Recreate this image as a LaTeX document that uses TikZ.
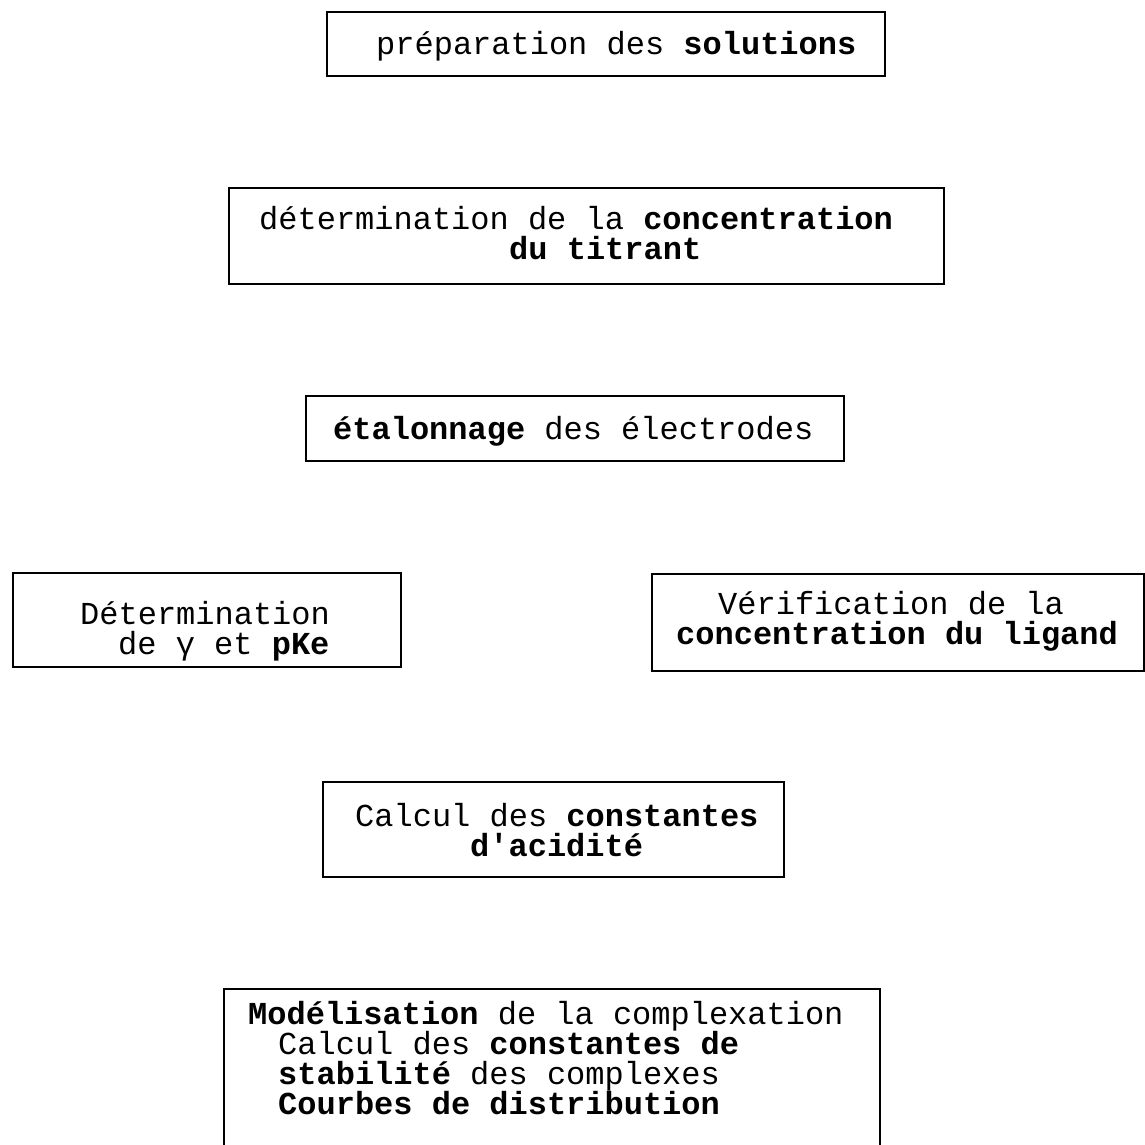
\documentclass[tikz,border=0pt]{standalone}
\usepackage{fontspec}
\setmonofont{Liberation Mono}
\begin{document}
\begin{tikzpicture}[x=1pt,y=-1pt,
  box/.style={draw=black,line width=1.6pt,rectangle,inner sep=0pt,anchor=north west},
  txt/.style={inner sep=0pt,anchor=base west,text height=20pt,text depth=6pt,font=\ttfamily\fontsize{32}{30}\selectfont}]
\useasboundingbox (0,0) rectangle (1144,1145);
% boxes
\node[box,minimum width=558pt,minimum height=64pt] (b1) at (326,11) {};
\node[box,minimum width=715pt,minimum height=96pt] (b2) at (228,187) {};
\node[box,minimum width=538pt,minimum height=65pt] (b3) at (305,395) {};
\node[box,minimum width=388pt,minimum height=94pt] (b4) at (12,572) {};
\node[box,minimum width=492pt,minimum height=97pt] (b5) at (651,573) {};
\node[box,minimum width=461pt,minimum height=95pt] (b6) at (322,781) {};
\node[box,minimum width=656pt,minimum height=200pt] (b7) at (223,988) {};
% texts
\node[txt] (t1) at (376,55) {préparation des \textbf{solutions}};
\node[txt] (t2a) at (259,229) {détermination de la \textbf{concentration}};
\node[txt] (t2b) at (509,259) {\textbf{du titrant}};
\node[txt] (t3) at (333,439) {\textbf{étalonnage} des électrodes};
\node[txt] (t4a) at (80,624) {Détermination};
\node[txt] (t4b) at (118,654) {de γ et \textbf{pKe}};
\node[txt] (t5a) at (718,614) {Vérification de la};
\node[txt] (t5b) at (676,644) {\textbf{concentration du ligand}};
\node[txt] (t6a) at (355,826) {Calcul des \textbf{constantes}};
\node[txt] (t6b) at (470,856) {\textbf{d'acidité}};
\node[txt] (t7a) at (248,1024) {\textbf{Modélisation} de la complexation};
\node[txt] (t7b) at (278,1054) {Calcul des \textbf{constantes de}};
\node[txt] (t7c) at (278,1084) {\textbf{stabilité} des complexes};
\node[txt] (t7d) at (278,1114) {\textbf{Courbes de distribution}};
\end{tikzpicture}
\end{document}
